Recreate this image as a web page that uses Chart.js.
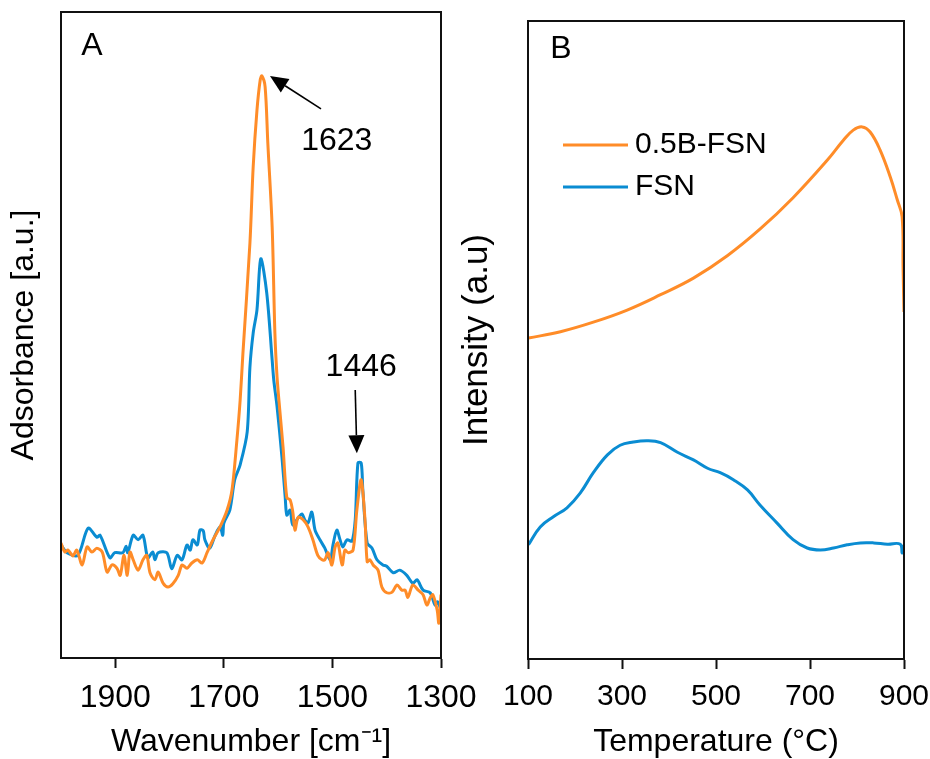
<!DOCTYPE html>
<html>
<head>
<meta charset="utf-8">
<script src="https://cdn.jsdelivr.net/npm/chart.js@4.4.1/dist/chart.umd.min.js"></script>
<style>
  body { margin: 0; background: #fff; }
  #wrap { position: relative; width: 930px; height: 759px; }
  #chartA { position: absolute; left: 0; top: 0; }
  #chartB { position: absolute; left: 460px; top: 0; }
</style>
</head>
<body>
<div id="wrap">
  <canvas id="chartA" width="485" height="759"></canvas>
  <canvas id="chartB" width="470" height="759"></canvas>
</div>
<script>
// panel A : IR spectra (wavenumber, absorbance in a.u.)
const wnOrangeA = [2000,1993,1987,1978,1971,1961,1952,1943,1934,1924,1915,1906,1897,1891,1884,1878,1873,1867,1858,1849,
  1842,1836,1827,1821,1812,1803,1794,1784,1777,1768,1759,1749,1740,1731,1720,1707,1694,1685,1676,1670,
  1665,1652,1646,1639,1633,1630,1624,1619,1611,1606,1602,1597,1591,1584,1578,1573,1569,1563,1554,1545,
  1536,1527,1519,1514,1508,1501,1495,1490,1482,1477,1471,1462,1455,1447,1440,1436,1431,1425,1416,1409,
  1400,1390,1381,1372,1366,1361,1352,1342,1333,1326,1320,1315,1307,1304,1300];
const absOrangeA = [17.8,16.4,16.7,15.8,16.7,14.4,17.2,16.4,17.0,16.4,13.3,14.4,13.9,12.8,15.9,12.8,16.4,15.2,13.6,15.2,
  15.9,13.2,12.1,13.3,11.6,11.0,11.5,12.8,14.4,13.9,14.7,15.2,14.7,16.3,18.3,20.3,22.9,26.0,33.7,39.9,
  47.0,64.2,76.0,84.8,89.5,90.1,88.4,79.7,66.7,50.3,43.5,38.4,32.7,24.8,24.5,22.6,19.8,21.8,21.4,20.3,
  18.3,15.9,15.2,15.2,16.3,14.4,17.2,17.8,14.4,16.7,16.3,16.7,22.9,27.6,21.4,14.9,15.2,14.4,13.6,11.0,
  10.1,10.2,11.3,10.5,10.5,9.4,11.3,10.5,9.8,8.2,9.3,9.8,7.4,5.4,9.8];

const wnBlueA = [2000,1989,1969,1950,1934,1928,1910,1901,1886,1880,1877,1867,1858,1849,1840,1831,1827,1821,1805,1796,
  1786,1777,1768,1762,1757,1749,1744,1738,1735,1726,1716,1707,1702,1700,1689,1680,1670,1657,1652,1646,
  1639,1632,1621,1611,1608,1602,1593,1587,1584,1578,1573,1563,1556,1551,1545,1538,1532,1523,1514,1504,
  1499,1492,1486,1481,1473,1464,1458,1453,1447,1444,1436,1427,1418,1407,1400,1388,1376,1363,1352,1344,
  1333,1320,1311,1306,1300];
const absBlueA = [17.5,16.3,15.9,20.1,18.7,19.0,15.5,16.3,16.3,17.3,16.3,19.0,18.3,19.0,15.5,16.4,15.2,16.3,16.3,13.8,
  15.9,15.2,17.5,16.7,18.3,17.5,19.8,19.7,18.3,17.0,19.0,20.3,19.0,20.9,22.9,27.6,29.9,35.0,45.0,50.3,
  53.9,61.8,56.5,46.1,43.0,38.9,31.1,24.9,22.1,22.9,20.6,21.7,22.3,21.4,20.9,22.6,19.8,18.3,17.0,15.2,
  17.5,19.8,18.3,17.2,18.3,18.1,21.4,30.2,30.2,26.0,17.8,17.0,15.2,14.4,14.2,13.2,13.6,12.8,11.6,12.1,
  10.5,10.1,8.2,8.7,7.4];

const ticksA = [1900, 1700, 1500, 1300];

// peak annotations (in data units of panel A)
const noteText = ['1623', '1446'];
const noteLabelAt = [[1492, 80.0], [1447, 45.0]];
const noteTail = [[1521, 85.0], [1458, 41.5]];
const noteTip = [[1615, 90.1], [1455, 31.7]];

// panel B : TPD curves (temperature, intensity in a.u.)
const tempOrangeB = [101,169,239,311,382,452,524,594,664,737,771,792,811,828,849,871,886,896,898,900];
const intOrangeB = [50.3,51.3,52.8,54.7,57.1,59.7,63.2,67.4,72.3,78.2,81.3,82.9,83.4,82.6,79.8,75.5,71.9,69.3,61.4,54.4];

const tempBlueB = [101,126,154,183,211,239,269,296,324,354,382,418,452,482,509,537,567,594,630,664,
  694,722,750,779,807,835,865,892,896,899];
const intBlueB = [17.9,20.7,22.3,23.7,26.0,29.2,32.0,33.5,34.0,34.2,33.9,32.4,31.2,29.9,29.2,28.1,26.5,24.1,21.3,18.7,
  17.4,17.1,17.4,17.9,18.2,18.2,18.0,18.0,16.6,17.9];

const ticksB = [100, 300, 500, 700, 900];

const orange = 'rgb(255,140,40)';
const blue = 'rgb(10,140,210)';
const FONT = '"Liberation Sans", Arial, sans-serif';

const toPoints = (xs, ys) => xs.map((x, i) => ({ x: x, y: ys[i] }));

// box around the plot + panel letter
const framePlugin = {
  id: 'frame',
  afterDatasetsDraw(chart, args, opts) {
    const { ctx, chartArea: a } = chart;
    ctx.save();
    ctx.strokeStyle = '#111';
    ctx.lineWidth = 2;
    ctx.strokeRect(a.left, a.top, a.right - a.left, a.bottom - a.top);
    ctx.fillStyle = '#000';
    ctx.font = '32px ' + FONT;
    ctx.textAlign = 'center';
    ctx.textBaseline = 'middle';
    ctx.fillText(opts.letter, a.left + opts.dx, a.top + opts.dy);
    ctx.restore();
  }
};

function arrow(ctx, x1, y1, x2, y2) {
  const ang = Math.atan2(y2 - y1, x2 - x1);
  const len = 18, half = 8;
  const bx = x2 - len * Math.cos(ang), by = y2 - len * Math.sin(ang);
  ctx.beginPath();
  ctx.moveTo(x1, y1);
  ctx.lineTo(bx, by);
  ctx.stroke();
  ctx.beginPath();
  ctx.moveTo(x2, y2);
  ctx.lineTo(bx + half * Math.sin(ang), by - half * Math.cos(ang));
  ctx.lineTo(bx - half * Math.sin(ang), by + half * Math.cos(ang));
  ctx.closePath();
  ctx.fill();
}

const notesPlugin = {
  id: 'notes',
  afterDraw(chart) {
    const { ctx, scales: { x, y } } = chart;
    ctx.save();
    ctx.fillStyle = '#000';
    ctx.strokeStyle = '#000';
    ctx.lineWidth = 1.6;
    ctx.font = '32px ' + FONT;
    ctx.textAlign = 'center';
    ctx.textBaseline = 'middle';
    noteText.forEach((t, i) => {
      ctx.fillText(t, x.getPixelForValue(noteLabelAt[i][0]), y.getPixelForValue(noteLabelAt[i][1]));
      arrow(ctx,
        x.getPixelForValue(noteTail[i][0]), y.getPixelForValue(noteTail[i][1]),
        x.getPixelForValue(noteTip[i][0]), y.getPixelForValue(noteTip[i][1]));
    });
    ctx.restore();
  }
};

const legendPlugin = {
  id: 'boxLegend',
  afterDraw(chart) {
    const { ctx, chartArea: a } = chart;
    ctx.save();
    ctx.font = '30px ' + FONT;
    ctx.textBaseline = 'middle';
    ctx.textAlign = 'left';
    chart.data.datasets.forEach((ds, i) => {
      const yy = a.top + 124 + i * 42;
      ctx.strokeStyle = ds.borderColor;
      ctx.lineWidth = 3;
      ctx.beginPath();
      ctx.moveTo(a.left + 35, yy);
      ctx.lineTo(a.left + 100, yy);
      ctx.stroke();
      ctx.fillStyle = '#000';
      ctx.fillText(ds.label, a.left + 107, yy);
    });
    ctx.restore();
  }
};

function xAxis(min, max, reverse, ticks, title, tickSize, tickPad, height) {
  return {
    type: 'linear', min: min, max: max, reverse: reverse,
    afterBuildTicks: (s) => { s.ticks = ticks.map(v => ({ value: v })); },
    afterFit: (s) => { s.height = height; s.paddingLeft = 0; s.paddingRight = 0; },
    ticks: {
      color: '#000', font: { family: FONT, size: tickSize }, padding: tickPad, maxRotation: 0, autoSkip: false,
      callback: (v) => String(v)
    },
    grid: { display: true, drawOnChartArea: false, drawTicks: true, tickLength: 10, tickWidth: 2, tickColor: '#111' },
    border: { display: true, color: '#111', width: 2 },
    title: { display: true, text: title, color: '#000', font: { family: FONT, size: 32, lineHeight: 1 }, padding: { top: 0, bottom: 1 } }
  };
}

function yAxis(title, width, titleSize, titlePad) {
  return {
    type: 'linear', min: 0, max: 100,
    afterFit: (s) => { s.width = width; },
    ticks: { display: false },
    grid: { display: false, drawTicks: false },
    border: { display: true, color: '#111', width: 2 },
    title: { display: true, text: title, color: '#000', font: { family: FONT, size: titleSize, lineHeight: 1 }, padding: { top: titlePad, bottom: 0 } }
  };
}

new Chart(document.getElementById('chartA'), {
  type: 'line',
  data: {
    datasets: [
      { label: '0.5B-FSN', data: toPoints(wnOrangeA, absOrangeA), borderColor: orange, borderWidth: 3, tension: 0.3 },
      { label: 'FSN', data: toPoints(wnBlueA, absBlueA), borderColor: blue, borderWidth: 3, tension: 0.3 }
    ]
  },
  options: {
    responsive: false,
    animation: false,
    layout: { padding: { top: 12, right: 44, bottom: 0, left: 0 } },
    elements: { point: { radius: 0 } },
    plugins: { legend: { display: false }, tooltip: { enabled: false }, frame: { letter: 'A', dx: 31, dy: 34 } },
    scales: {
      x: xAxis(1300, 2000, true, ticksA, 'Wavenumber [cm\u207B\u00B9]', 32, 11, 101),
      y: yAxis('Adsorbance [a.u.]', 61, 32, 8)
    }
  },
  plugins: [framePlugin, notesPlugin]
});

new Chart(document.getElementById('chartB'), {
  type: 'line',
  data: {
    datasets: [
      { label: '0.5B-FSN', data: toPoints(tempOrangeB, intOrangeB), borderColor: orange, borderWidth: 3, tension: 0.4 },
      { label: 'FSN', data: toPoints(tempBlueB, intBlueB), borderColor: blue, borderWidth: 3, tension: 0.4 }
    ]
  },
  options: {
    responsive: false,
    animation: false,
    layout: { padding: { top: 21, right: 26, bottom: 0, left: 0 } },
    elements: { point: { radius: 0 } },
    plugins: { legend: { display: false }, tooltip: { enabled: false }, frame: { letter: 'B', dx: 33, dy: 28 } },
    scales: {
      x: xAxis(100, 900, false, ticksB, 'Temperature (\u00B0C)', 30, 10, 100),
      y: yAxis('Intensity (a.u)', 68, 35, 0)
    }
  },
  plugins: [framePlugin, legendPlugin]
});
</script>
</body>
</html>
